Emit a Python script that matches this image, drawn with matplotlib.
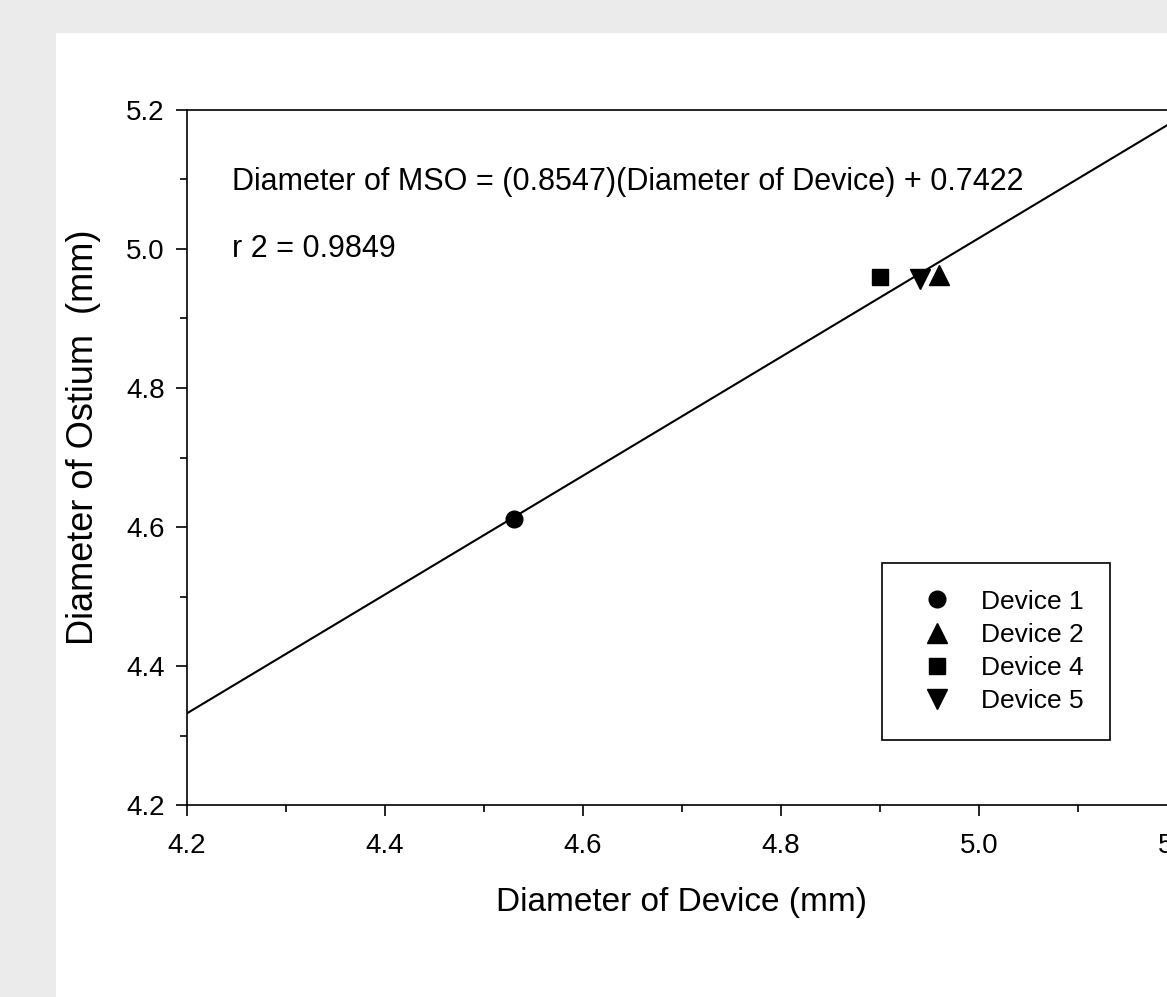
import numpy as np
import matplotlib
matplotlib.use("Agg")
import matplotlib.pyplot as plt
from matplotlib.patches import Rectangle

plt.rcParams['font.family'] = ['Liberation Sans', 'DejaVu Sans']

# device diameters (x) and ostium diameters (y)
devices = ["Device 1", "Device 2", "Device 4", "Device 5"]
device_diam = [4.53, 4.96, 4.90, 4.94]
ostium_diam = [4.612, 4.962, 4.960, 4.957]
markers = ["o", "^", "s", "v"]
marker_sizes = [12, 14, 11.5, 14]

slope = 0.8547
intercept = 0.7422
r2 = 0.9849

fig = plt.figure(figsize=(11.67, 9.97), dpi=100)
fig.patch.set_facecolor('#ebebeb')
fig.add_artist(Rectangle((56 / 1167, 0), 1, 1 - 33 / 997, transform=fig.transFigure,
                         facecolor='white', edgecolor='none', zorder=0))

ax = fig.add_axes([187 / 1167, 1 - 805 / 997, 990 / 1167, 695 / 997])
ax.set_facecolor('none')

fit_x = np.array([4.2, 5.2])
ax.plot(fit_x, slope * fit_x + intercept, color='black', lw=1.5, zorder=2)

for name, xv, yv, m, ms in zip(devices, device_diam, ostium_diam, markers, marker_sizes):
    ax.plot(xv, yv, marker=m, color='black', markersize=ms, linestyle='none',
            label=name, zorder=3)

ax.set_xlim(4.2, 5.2)
ax.set_ylim(4.2, 5.2)
ax.set_xticks([4.2, 4.4, 4.6, 4.8, 5.0, 5.2])
ax.set_yticks([4.2, 4.4, 4.6, 4.8, 5.0, 5.2])
ax.set_xticks(np.arange(4.3, 5.2, 0.2), minor=True)
ax.set_yticks(np.arange(4.3, 5.2, 0.2), minor=True)
ax.xaxis.set_major_formatter(plt.FormatStrFormatter('%.1f'))
ax.yaxis.set_major_formatter(plt.FormatStrFormatter('%.1f'))
ax.tick_params(which='major', direction='out', length=8, width=1.2, labelsize=20)
ax.tick_params(axis='x', which='major', pad=12)
ax.tick_params(axis='y', which='major', pad=8)
ax.tick_params(which='minor', direction='out', length=5, width=1.2)
for s in ax.spines.values():
    s.set_linewidth(1.2)

ax.set_xlabel("Diameter of Device (mm)", fontsize=24, labelpad=20)
ax.set_ylabel("Diameter of Ostium  (mm)", fontsize=26, labelpad=18, y=0.529)

ax.text(4.245, 5.096, f"Diameter of MSO = ({slope})(Diameter of Device) + {intercept}",
        fontsize=22, va='center', ha='left')
ax.text(4.245, 5.0, f"r 2 = {r2}", fontsize=22, va='center', ha='left')

leg = ax.legend(loc='upper left', bbox_to_anchor=(0.702, 0.348), fontsize=19,
                frameon=True, fancybox=False, edgecolor='black', framealpha=1,
                handletextpad=0.58, labelspacing=0.35, borderpad=1.0, handlelength=2.17,
                borderaxespad=0)
leg.get_frame().set_linewidth(1.2)

fig.savefig("out.png", dpi=100, facecolor=fig.get_facecolor())
